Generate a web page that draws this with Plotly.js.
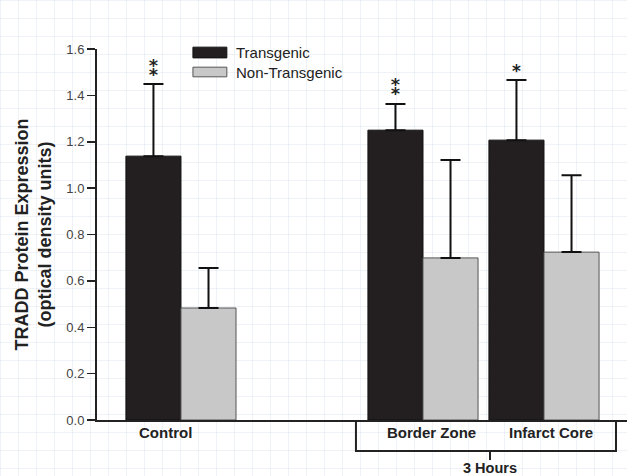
<!DOCTYPE html>
<html><head><meta charset="utf-8">
<script src="https://cdn.plot.ly/plotly-3.0.1.min.js"></script>
<style>
html,body{margin:0;padding:0;}
body{width:627px;height:476px;background-color:#fff;
background-image:linear-gradient(rgba(200,215,230,0.3) 1px,transparent 1px),linear-gradient(90deg,rgba(200,215,230,0.3) 1px,transparent 1px);
background-size:18px 18px;}
#chart{width:627px;height:476px;}
</style></head>
<body><div id="chart"></div>
<script>
const groupPos = [0, 2, 3];
const groupLabels = ["Control", "Border Zone", "Infarct Core"];
const transgenic = [1.138, 1.250, 1.207];
const transgenicErr = [0.311, 0.113, 0.259];
const nonTransgenic = [0.483, 0.699, 0.724];
const nonTransgenicErr = [0.172, 0.422, 0.332];
const significance = ["\u2051", "\u2051", "*"];
const yTicks = [0, 0.2, 0.4, 0.6, 0.8, 1.0, 1.2, 1.4, 1.6];

const F = "Arial, 'Liberation Sans', sans-serif";
const zeros = transgenic.map(() => 0);

const traces = [
  {type:'bar', name:'Transgenic', x:groupPos, y:transgenic,
   marker:{color:'#231f20', line:{color:'#111', width:1}},
   error_y:{type:'data', symmetric:false, array:transgenicErr, arrayminus:zeros, color:'#111', thickness:2, width:10}},
  {type:'bar', name:'Non-Transgenic', x:groupPos, y:nonTransgenic,
   marker:{color:'#c8c8c8', line:{color:'#555', width:1}},
   error_y:{type:'data', symmetric:false, array:nonTransgenicErr, arrayminus:zeros, color:'#111', thickness:2, width:10}}
];

const labelShift = [-0.13, 0.07, 0.06];
const annotations = [];
groupLabels.forEach((g, i) => {
  annotations.push({x: groupPos[i] + labelShift[i], y: -0.035, xref:'x', yref:'paper', text:g, showarrow:false,
    yanchor:'middle', font:{family:F, size:15, color:'#222', weight:'bold'}});
});
significance.forEach((s, i) => {
  const two = s !== '*';
  annotations.push({x: groupPos[i] - 0.227, y: transgenic[i] + transgenicErr[i], xref:'x', yref:'y', text:s,
    showarrow:false, yanchor:'middle', yshift: two ? 16 : 9,
    font:{family:"'DejaVu Sans'", size: two ? 22 : 17, color:'#222', weight:'bold'}});
});
annotations.push({x: 2.554, y: -0.13, xref:'x', yref:'paper', text:'3 Hours', showarrow:false,
  yanchor:'middle', font:{family:F, size:14.5, color:'#222', weight:'bold'}});
// legend texts
annotations.push({x:0.258, y:0.991, xref:'paper', yref:'paper', text:'Transgenic', showarrow:false, xanchor:'left', yanchor:'middle', font:{family:F, size:15, color:'#222'}});
annotations.push({x:0.258, y:0.938, xref:'paper', yref:'paper', text:'Non-Transgenic', showarrow:false, xanchor:'left', yanchor:'middle', font:{family:F, size:15, color:'#222'}});

const shapes = [
  {type:'path', xref:'x', yref:'paper', path:'M1.446,0 V-0.0836 H3.595 V0', line:{color:'#222', width:2}},
  {type:'line', xref:'x', yref:'paper', x0:2.554, x1:2.554, y0:-0.0836, y1:-0.108, line:{color:'#222', width:2}},
  {type:'rect', xref:'paper', yref:'paper', x0:0.181, x1:0.245, y0:0.976, y1:1.005, fillcolor:'#231f20', line:{color:'#111', width:1}},
  {type:'rect', xref:'paper', yref:'paper', x0:0.181, x1:0.245, y0:0.925, y1:0.951, fillcolor:'#c8c8c8', line:{color:'#555', width:1}}
];

const layout = {
  width:627, height:476,
  margin:{l:97, r:0, t:49, b:56},
  paper_bgcolor:'rgba(0,0,0,0)', plot_bgcolor:'rgba(0,0,0,0)',
  barmode:'group', bargap:0.09, bargroupgap:0,
  showlegend:false,
  xaxis:{range:[-0.694, 3.686], showticklabels:false, ticks:'', showgrid:false, zeroline:false,
    showline:true, linecolor:'#222', linewidth:2},
  yaxis:{range:[0,1.6], tickvals:yTicks, tickformat:'.1f', ticks:'outside', ticklen:8, tickwidth:1.5, tickcolor:'#222',
    showgrid:false, zeroline:false, showline:true, linecolor:'#222', linewidth:2,
    tickfont:{family:F, size:13, color:'#444'},
    title:{text:'TRADD Protein Expression<br>(optical density units)', standoff:10,
      font:{family:F, size:18, color:'#222', weight:'bold'}}},
  annotations, shapes,
  font:{family:F}
};
Plotly.newPlot('chart', traces, layout, {displayModeBar:false, staticPlot:true});
</script></body></html>
